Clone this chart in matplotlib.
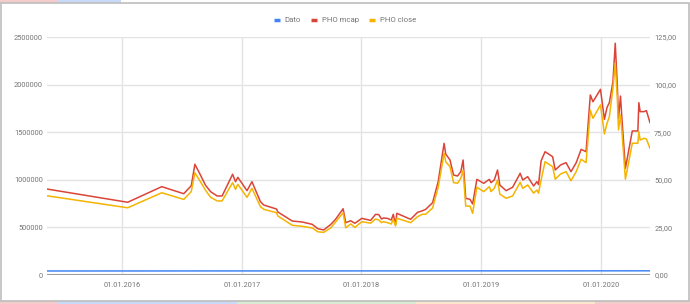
import pandas as pd
import matplotlib
matplotlib.use("Agg")
import matplotlib.pyplot as plt
import matplotlib.dates as mdates
from matplotlib.lines import Line2D
from matplotlib.patches import Rectangle

plt.rcParams.update({"font.family": ["Roboto", "DejaVu Sans"], "font.size": 5.3})

dates = [
    "2015-05-18", "2016-01-19", "2016-05-02", "2016-07-08", "2016-07-31", "2016-08-11",
    "2016-08-28", "2016-09-12", "2016-09-28", "2016-10-18", "2016-11-02", "2016-12-04",
    "2016-12-13", "2016-12-20", "2017-01-17", "2017-02-01", "2017-02-27", "2017-03-09",
    "2017-04-17", "2017-04-21", "2017-06-04", "2017-07-04", "2017-08-04", "2017-08-21",
    "2017-09-08", "2017-09-29", "2017-10-14", "2017-11-06", "2017-11-14", "2017-11-29",
    "2017-12-12", "2018-01-02", "2018-01-29", "2018-02-13", "2018-02-23", "2018-03-03",
    "2018-03-09", "2018-03-21", "2018-04-02", "2018-04-08", "2018-04-15", "2018-04-19",
    "2018-05-31", "2018-06-21", "2018-07-06", "2018-07-16", "2018-08-06", "2018-08-23",
    "2018-09-10", "2018-09-15", "2018-09-28", "2018-10-09", "2018-10-21", "2018-10-31",
    "2018-11-07", "2018-11-15", "2018-11-28", "2018-12-06", "2018-12-19", "2019-01-09",
    "2019-01-26", "2019-01-31", "2019-02-10", "2019-02-20", "2019-02-27", "2019-03-18",
    "2019-04-07", "2019-04-30", "2019-05-08", "2019-05-23", "2019-06-10", "2019-06-20",
    "2019-06-25", "2019-07-03", "2019-07-15", "2019-08-07", "2019-08-15", "2019-08-31",
    "2019-09-17", "2019-10-02", "2019-10-18", "2019-11-02", "2019-11-17", "2019-11-30",
    "2019-12-08", "2019-12-31", "2020-01-12", "2020-01-20", "2020-01-27", "2020-02-07",
    "2020-02-14", "2020-02-20", "2020-02-24", "2020-03-01", "2020-03-05", "2020-03-16",
    "2020-04-06", "2020-04-23", "2020-04-26", "2020-04-30", "2020-05-12", "2020-05-19",
    "2020-05-30",
]

mcap = [
    903000, 764000, 928000, 854000, 938000, 1163000,
    1050000, 945000, 875000, 830000, 830000, 1058000,
    980000, 1026000, 886000, 980000, 770000, 735000,
    693000, 662000, 567000, 557000, 532000, 486000,
    473000, 530000, 585000, 696000, 549000, 570000,
    543000, 595000, 574000, 637000, 634000, 588000,
    599000, 595000, 578000, 637000, 532000, 648000,
    585000, 658000, 675000, 690000, 760000, 980000,
    1383000, 1271000, 1208000, 1050000, 1040000, 1085000,
    1208000, 805000, 795000, 746000, 1005000, 963000,
    1005000, 970000, 998000, 1103000, 945000, 886000,
    921000, 1068000, 998000, 1033000, 935000, 980000,
    950000, 1200000, 1295000, 1243000, 1103000, 1155000,
    1180000, 1085000, 1180000, 1320000, 1295000, 1891000,
    1820000, 1950000, 1635000, 1761000, 1810000, 2030000,
    2434000, 2013000, 1646000, 1880000, 1663000, 1120000,
    1513000, 1513000, 1810000, 1716000, 1716000, 1727000,
    1600000,
]

close = [
    41.6, 35.3, 43.2, 39.7, 43.8, 53.7,
    49.0, 44.6, 40.8, 38.9, 38.9, 48.5,
    45.0, 47.6, 40.8, 45.5, 35.9, 34.5,
    32.7, 31.0, 26.1, 25.6, 24.7, 22.7,
    22.4, 24.7, 27.8, 32.7, 24.8, 26.8,
    25.0, 28.0, 27.2, 29.4, 28.9, 27.5,
    28.0, 27.5, 26.8, 29.3, 25.7, 29.8,
    27.5, 30.6, 31.9, 31.9, 35.2, 46.1,
    63.9, 59.5, 56.9, 48.5, 48.2, 50.8,
    55.1, 36.2, 36.2, 32.4, 46.1, 43.8,
    46.4, 43.8, 45.5, 49.9, 42.5, 40.3,
    41.5, 48.7, 45.5, 47.3, 43.0, 44.6,
    43.0, 50.0, 59.5, 56.9, 50.3, 53.0,
    54.3, 49.5, 54.3, 60.8, 59.0, 86.6,
    82.3, 89.3, 74.1, 79.7, 83.1, 98.1,
    111.2, 93.7, 76.2, 84.0, 76.2, 50.3,
    69.2, 69.2, 75.3, 70.9, 71.8, 71.4,
    66.5,
]

df = pd.DataFrame({"date": pd.to_datetime(dates), "mcap": mcap, "close": close})
# "Dato" is the spreadsheet date serial number
df["dato"] = (df["date"] - pd.Timestamp("1899-12-30")).dt.days

left_ticks = [0, 500000, 1000000, 1500000, 2000000, 2500000]
right_ticks = [0, 25, 50, 75, 100, 125]
year_ticks = ["2016-01-01", "2017-01-01", "2018-01-01", "2019-01-01", "2020-01-01"]

c_blue, c_red, c_yellow = "#4285F4", "#DB4437", "#F4B400"
grid_c = "#e3e3e3"
text_c = "#757575"

fig = plt.figure(figsize=(6.9, 3.04), dpi=100)
fig.patch.set_facecolor("white")

# spreadsheet cells peeking out above and below the chart
W, H = 690, 304
def strip(x0, x1, y0, y1, color):
    fig.patches.append(Rectangle((x0 / W, 1 - y1 / H), (x1 - x0) / W, (y1 - y0) / H,
                                 transform=fig.transFigure, facecolor=color, edgecolor="none"))
strip(0, 57, 0, 3, "#f4cccc")
strip(57, 121, 0, 3, "#c9daf8")
strip(0, 57, 301, 304, "#f4cccc")
strip(57, 237, 301, 304, "#c9daf8")
strip(237, 416, 301, 304, "#d9ead3")
strip(416, 595, 301, 304, "#fce5cd")
strip(595, 690, 301, 304, "#f4cccc")
fig.patches.append(Rectangle((0.5 / W, 1 - 300.5 / H), 688.5 / W, 297.5 / H, transform=fig.transFigure,
                             fill=False, edgecolor="#bdbdbd", linewidth=1.2))

ax = fig.add_axes([47 / W, 1 - 275 / H, 603 / W, 238 / H])
ax2 = ax.twinx()

ax.plot(df["date"], df["dato"], color=c_blue, lw=1.1, zorder=3)
ax.plot(df["date"], df["mcap"], color=c_red, lw=1.1, zorder=4)
ax2.plot(df["date"], df["close"], color=c_yellow, lw=1.1, zorder=5)

ax.set_xlim(df["date"].iloc[0], df["date"].iloc[-1])
ax.set_ylim(0, 2500000)
ax2.set_ylim(0, 125)

ax.set_yticks(left_ticks)
ax.set_yticklabels([str(v) for v in left_ticks])
ax2.set_yticks(right_ticks)
ax2.set_yticklabels([f"{v:.2f}".replace(".", ",") for v in right_ticks])
ax.set_xticks(pd.to_datetime(year_ticks))
ax.xaxis.set_major_formatter(mdates.DateFormatter("%d.%m.%Y"))

for a in (ax, ax2):
    for s in a.spines.values():
        s.set_visible(False)
    a.tick_params(length=0, colors=text_c, labelsize=5.3)
ax.tick_params(axis="y", pad=3)
ax2.tick_params(axis="y", pad=3)
ax.tick_params(axis="x", pad=5)

ax.grid(True, color=grid_c, lw=1.0)
ax.set_axisbelow(True)
ax.axhline(0, color="#9e9e9e", lw=1.5, zorder=2)
ax2.set_zorder(ax.get_zorder() + 1)
ax2.patch.set_visible(False)

handles = [Line2D([], [], color=c, lw=2.5, solid_capstyle="butt") for c in (c_blue, c_red, c_yellow)]
leg = fig.legend(handles, ["Dato", "PHO mcap", "PHO close"], loc="center", ncol=3,
                 bbox_to_anchor=(0.5, 1 - 20 / H), frameon=False, fontsize=5.6,
                 handlelength=0.8, handletextpad=0.6, columnspacing=1.3)
for t in leg.get_texts():
    t.set_color(text_c)

plt.savefig("out.png", dpi=100)
plt.close()
